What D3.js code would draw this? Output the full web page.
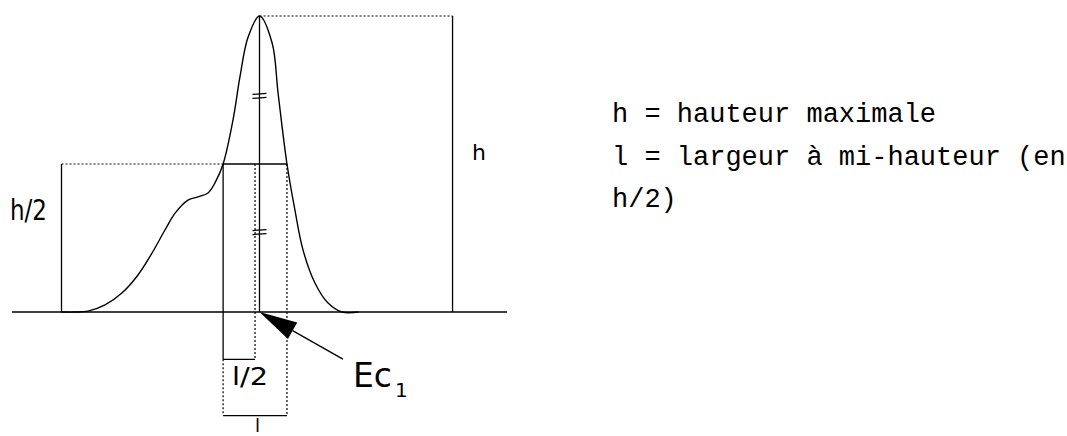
<!DOCTYPE html>
<meta charset="utf-8">
<style>
body { margin: 0; background: #fff; }
.line { fill: none; stroke: #000; stroke-width: 1.3; }
.dot { fill: none; stroke: #000; stroke-width: 1.2; stroke-dasharray: 2,2; }
.curve { fill: none; stroke: #000; stroke-width: 1.4; }
.plot { font-family: 'DejaVu Sans', sans-serif; font-weight: normal; fill: #000; }
.legend text { font-family: 'Liberation Mono', monospace; font-size: 27px; fill: #000; }
</style>
<svg width="1067" height="436"></svg>
<script src="https://d3js.org/d3.v7.min.js"></script>
<script>

// chromatogram (time, signal in % of h)
var timeVals = [1.98, 2.55, 3.07, 3.76, 4.44, 5.09, 5.65, 6.18, 6.59, 7.11, 7.52, 7.92, 8.20, 8.53,
                8.93, 9.21, 9.54, 10.0, 10.51, 10.75, 11.11, 11.43, 11.76, 12.24, 12.77, 13.33, 14.0];
var signalVals = [0, 0, 0.3, 2.4, 6.4, 12.5, 19.8, 27.7, 33.4, 37.8, 38.9, 40.2, 43.6, 50,
                  64.9, 79.4, 92.9, 100, 90.9, 74.0, 50, 34.5, 20.9, 9.8, 3.0, 0, 0];

// peak landmarks
var peakApex = 10, peakHeight = 100, halfHeight = 50;
var halfLeft = 8.53, halfRight = 11.11;
var halfWidthEnd = 9.82;           // halfLeft + l/2
var leftRef = 2, rightRef = 17.8;  // h/2 and h markers
var boxLevels = [-16, -35];        // bottoms of the l/2 and l brackets
var equalMarks = [73, 27];

var legendLines = ["h = hauteur maximale", "l = largeur à mi-hauteur (en", "h/2)"];

var svg = d3.select("svg");
var x = d3.scaleLinear().domain([0, 20]).range([12, 507]);
var y = d3.scaleLinear().domain([0, 100]).range([312, 16]);

function seg(cls, x1, y1, x2, y2) {
    svg.append("line").attr("class", cls)
        .attr("x1", x(x1)).attr("y1", y(y1)).attr("x2", x(x2)).attr("y2", y(y2));
}

// baseline
seg("line", 0, 0, 20, 0);

// h reference
seg("dot", peakApex, peakHeight, rightRef, peakHeight);
seg("line", rightRef, peakHeight, rightRef, 0);
seg("line", peakApex, peakHeight, peakApex, 0);

// h/2 reference
seg("line", leftRef, 0, leftRef, halfHeight);
seg("dot", leftRef, halfHeight, halfLeft, halfHeight);
seg("line", halfLeft, halfHeight, halfRight, halfHeight);

// l/2 bracket
seg("line", halfLeft, halfHeight, halfLeft, boxLevels[0]);
seg("line", halfLeft, boxLevels[0], halfWidthEnd, boxLevels[0]);
seg("dot", halfWidthEnd, halfHeight, halfWidthEnd, boxLevels[0]);

// l bracket
seg("dot", halfLeft, boxLevels[0], halfLeft, boxLevels[1]);
seg("dot", halfRight, halfHeight, halfRight, boxLevels[1]);
seg("line", halfLeft, boxLevels[1], halfRight, boxLevels[1]);

// equal marks on the apex line
equalMarks.forEach(function(v) {
    [-2, 2].forEach(function(o) {
        svg.append("line").attr("class", "line")
            .attr("x1", x(peakApex) - 7).attr("x2", x(peakApex) + 7)
            .attr("y1", y(v) + o + 0.5).attr("y2", y(v) + o - 0.5);
    });
});

// the peak
var line = d3.line()
    .x(function(d, i) { return x(d); })
    .y(function(d, i) { return y(signalVals[i]); })
    .curve(d3.curveCatmullRom.alpha(0.5));
svg.append("path").attr("class", "curve").attr("d", line(timeVals));

// Ec1 arrow
var tip = [x(peakApex), y(0)], tail = [x(13.37), y(-15.9)];
var dx = tail[0] - tip[0], dy = tail[1] - tip[1], len = Math.sqrt(dx * dx + dy * dy);
var ux = dx / len, uy = dy / len, headL = 38, headW = 9.5;
var bx = tip[0] + ux * headL, by = tip[1] + uy * headL;
svg.append("path")
    .attr("d", "M" + tip + "L" + [bx - uy * headW, by + ux * headW] + "L" + [bx + uy * headW, by - ux * headW] + "Z")
    .attr("fill", "#000");
svg.append("line").attr("class", "line")
    .attr("x1", bx).attr("y1", by).attr("x2", tail[0]).attr("y2", tail[1]);

// labels on the plot
function label(txt, px, py, size, len, anchor) {
    var t = svg.append("text").attr("class", "plot")
        .attr("x", px).attr("y", py)
        .style("font-size", size + "px")
        .attr("text-anchor", anchor || "start")
        .text(txt);
    if (len) t.attr("textLength", len).attr("lengthAdjust", "spacingAndGlyphs");
    return t;
}
label("h/2", 10, y(31), 28, 37);
label("h", x(18.59), y(51.4), 22);
label("l/2", 232, y(boxLevels[0]) + 26, 24, 36);
label("l", x(peakApex) - 2, 432, 18, null, "middle");
label("Ec", tail[0] + 10, tail[1] + 28, 34, 39);
label("1", tail[0] + 52, tail[1] + 38, 20);

// legend text
svg.append("g").attr("class", "legend")
    .selectAll("text")
    .data(legendLines)
    .enter().append("text")
    .attr("x", 612)
    .attr("y", function(d, i) { return 122 + i * 42.5; })
    .text(function(d) { return d; });

</script>
